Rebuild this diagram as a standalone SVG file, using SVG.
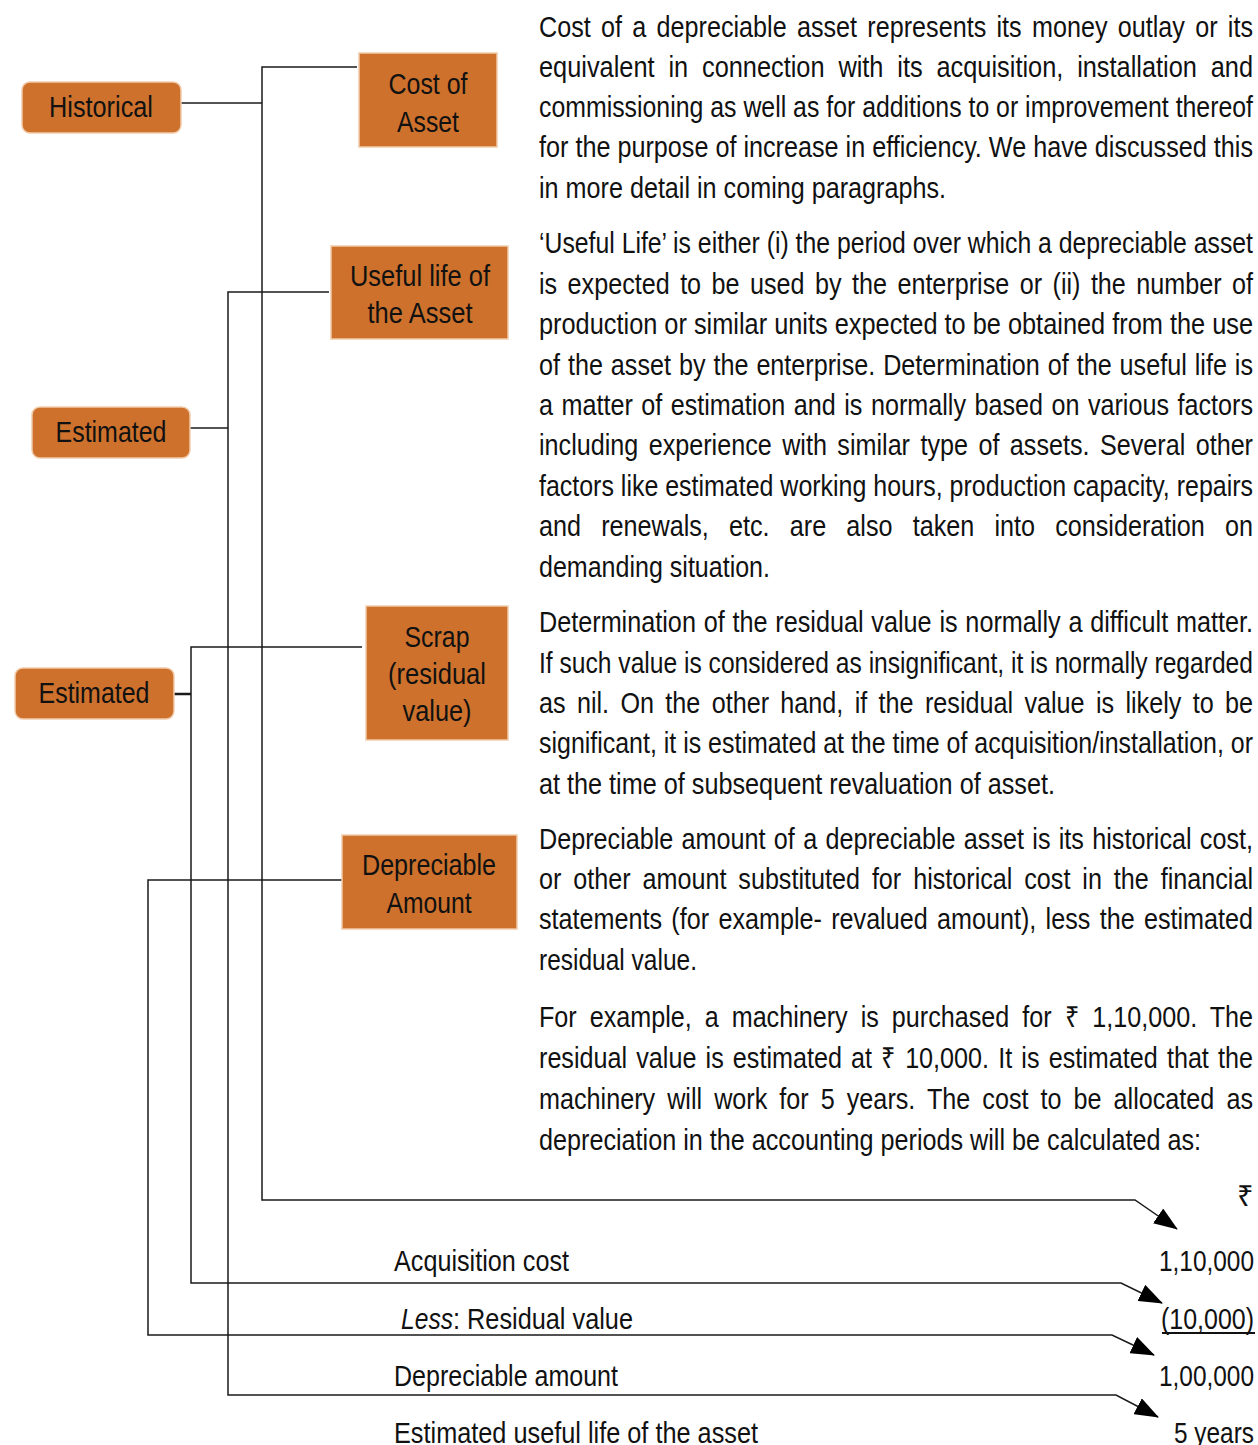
<svg xmlns="http://www.w3.org/2000/svg" width="1258" height="1445" viewBox="0 0 1258 1445">
<style>
.box{fill:#cd712d;stroke:#f1cbaa;stroke-width:1.5}
.lbl{font-family:"Liberation Sans",Arial,sans-serif;font-size:29px;fill:#111;text-anchor:middle}
.body{font-family:"Liberation Sans",Arial,sans-serif;font-size:29px;fill:#111}
.num{font-family:"Liberation Sans",Arial,sans-serif;font-size:29px;fill:#111;text-anchor:end}
.ln{fill:none;stroke:#1a1a1a;stroke-width:1.5}
</style>
<defs>
<marker id="ah" viewBox="0 0 24 18" refX="23" refY="9" markerWidth="24" markerHeight="18" markerUnits="userSpaceOnUse" orient="auto">
<path d="M0,0 L24,9 L0,18 z" fill="#000"/>
</marker>
</defs>

<g id="connectors">
<path class="ln" d="M181,103 H262"/>
<path class="ln" d="M357,67 H262 V1200 H1135 L1177,1229" marker-end="url(#ah)"/>
<path class="ln" d="M190,428 H228"/>
<path class="ln" d="M329,292 H228 V1395 H1116 L1158,1417" marker-end="url(#ah)"/>
<path class="ln" d="M174,694 H191" style="stroke-width:2.5"/>
<path class="ln" d="M362,647 H191 V1283 H1121 L1162,1303" marker-end="url(#ah)"/>
<path class="ln" d="M342,880 H148 V1335 H1112 L1154,1355" marker-end="url(#ah)"/>
</g>

<g id="node-historical">
<rect class="box" x="22" y="82" width="159" height="51" rx="8"/>
<text class="lbl" x="101" y="117" textLength="104" lengthAdjust="spacingAndGlyphs">Historical</text>
</g>
<g id="node-estimated-1">
<rect class="box" x="32" y="407" width="158" height="51" rx="8"/>
<text class="lbl" x="111" y="442" textLength="111" lengthAdjust="spacingAndGlyphs">Estimated</text>
</g>
<g id="node-estimated-2">
<rect class="box" x="15" y="668" width="159" height="51" rx="8"/>
<text class="lbl" x="94" y="703" textLength="111" lengthAdjust="spacingAndGlyphs">Estimated</text>
</g>
<g id="node-cost">
<rect class="box" x="359" y="53" width="138" height="94"/>
<text class="lbl" x="428" y="94" textLength="79" lengthAdjust="spacingAndGlyphs">Cost of</text>
<text class="lbl" x="428" y="132" textLength="62" lengthAdjust="spacingAndGlyphs">Asset</text>
</g>
<g id="node-useful-life">
<rect class="box" x="331" y="246" width="177" height="93"/>
<text class="lbl" x="420" y="286" textLength="140" lengthAdjust="spacingAndGlyphs">Useful life of</text>
<text class="lbl" x="420" y="323" textLength="105" lengthAdjust="spacingAndGlyphs">the Asset</text>
</g>
<g id="node-scrap">
<rect class="box" x="366" y="606" width="142" height="134"/>
<text class="lbl" x="437" y="647" textLength="65" lengthAdjust="spacingAndGlyphs">Scrap</text>
<text class="lbl" x="437" y="684" textLength="98" lengthAdjust="spacingAndGlyphs">(residual</text>
<text class="lbl" x="437" y="721" textLength="69" lengthAdjust="spacingAndGlyphs">value)</text>
</g>
<g id="node-depreciable">
<rect class="box" x="342" y="835" width="175" height="94"/>
<text class="lbl" x="429" y="875" textLength="134" lengthAdjust="spacingAndGlyphs">Depreciable</text>
<text class="lbl" x="429" y="913" textLength="85" lengthAdjust="spacingAndGlyphs">Amount</text>
</g>

<g id="text-cost">
<text class="body" x="539" y="37" textLength="714" lengthAdjust="spacingAndGlyphs" word-spacing="3.8">Cost of a depreciable asset represents its money outlay or its</text>
<text class="body" x="539" y="77" textLength="714" lengthAdjust="spacingAndGlyphs" word-spacing="7.8">equivalent in connection with its acquisition, installation and</text>
<text class="body" x="539" y="117" textLength="714" lengthAdjust="spacingAndGlyphs">commissioning as well as for additions to or improvement thereof</text>
<text class="body" x="539" y="157" textLength="714" lengthAdjust="spacingAndGlyphs">for the purpose of increase in efficiency. We have discussed this</text>
<text class="body" x="539" y="198" textLength="407" lengthAdjust="spacingAndGlyphs">in more detail in coming paragraphs.</text>
</g>
<g id="text-useful-life">
<text class="body" x="539" y="253" textLength="714" lengthAdjust="spacingAndGlyphs">‘Useful Life’ is either (i) the period over which a depreciable asset</text>
<text class="body" x="539" y="294" textLength="714" lengthAdjust="spacingAndGlyphs" word-spacing="4">is expected to be used by the enterprise or (ii) the number of</text>
<text class="body" x="539" y="334" textLength="714" lengthAdjust="spacingAndGlyphs">production or similar units expected to be obtained from the use</text>
<text class="body" x="539" y="375" textLength="714" lengthAdjust="spacingAndGlyphs" word-spacing="1.1">of the asset by the enterprise. Determination of the useful life is</text>
<text class="body" x="539" y="415" textLength="714" lengthAdjust="spacingAndGlyphs" word-spacing="1.7">a matter of estimation and is normally based on various factors</text>
<text class="body" x="539" y="455" textLength="714" lengthAdjust="spacingAndGlyphs" word-spacing="4">including experience with similar type of assets. Several other</text>
<text class="body" x="539" y="496" textLength="714" lengthAdjust="spacingAndGlyphs">factors like estimated working hours, production capacity, repairs</text>
<text class="body" x="539" y="536" textLength="714" lengthAdjust="spacingAndGlyphs" word-spacing="15.2">and renewals, etc. are also taken into consideration on</text>
<text class="body" x="539" y="577" textLength="231" lengthAdjust="spacingAndGlyphs">demanding situation.</text>
</g>
<g id="text-scrap">
<text class="body" x="539" y="632" textLength="714" lengthAdjust="spacingAndGlyphs" word-spacing="0.9">Determination of the residual value is normally a difficult matter.</text>
<text class="body" x="539" y="673" textLength="714" lengthAdjust="spacingAndGlyphs">If such value is considered as insignificant, it is normally regarded</text>
<text class="body" x="539" y="713" textLength="714" lengthAdjust="spacingAndGlyphs" word-spacing="5">as nil. On the other hand, if the residual value is likely to be</text>
<text class="body" x="539" y="753" textLength="714" lengthAdjust="spacingAndGlyphs">significant, it is estimated at the time of acquisition/installation, or</text>
<text class="body" x="539" y="794" textLength="516" lengthAdjust="spacingAndGlyphs">at the time of subsequent revaluation of asset.</text>
</g>
<g id="text-depreciable">
<text class="body" x="539" y="849" textLength="714" lengthAdjust="spacingAndGlyphs" word-spacing="1.5">Depreciable amount of a depreciable asset is its historical cost,</text>
<text class="body" x="539" y="889" textLength="714" lengthAdjust="spacingAndGlyphs" word-spacing="5.7">or other amount substituted for historical cost in the financial</text>
<text class="body" x="539" y="929" textLength="714" lengthAdjust="spacingAndGlyphs" word-spacing="2.7">statements (for example- revalued amount), less the estimated</text>
<text class="body" x="539" y="970" textLength="158" lengthAdjust="spacingAndGlyphs">residual value.</text>
</g>
<g id="text-example">
<text class="body" x="539" y="1027" textLength="714" lengthAdjust="spacingAndGlyphs" word-spacing="6.9">For example, a machinery is purchased for ₹ 1,10,000. The</text>
<text class="body" x="539" y="1068" textLength="714" lengthAdjust="spacingAndGlyphs" word-spacing="2.5">residual value is estimated at ₹ 10,000. It is estimated that the</text>
<text class="body" x="539" y="1109" textLength="714" lengthAdjust="spacingAndGlyphs" word-spacing="5.8">machinery will work for 5 years. The cost to be allocated as</text>
<text class="body" x="539" y="1150" textLength="662" lengthAdjust="spacingAndGlyphs">depreciation in the accounting periods will be calculated as:</text>
</g>
<g id="table">
<text class="num" x="1254" y="1206" font-size="25">₹</text>
<text class="body" x="394" y="1271" textLength="175" lengthAdjust="spacingAndGlyphs">Acquisition cost</text>
<text class="num" x="1254" y="1271" textLength="95" lengthAdjust="spacingAndGlyphs">1,10,000</text>
<text class="body" x="401" y="1329"><tspan font-style="italic" textLength="52" lengthAdjust="spacingAndGlyphs">Less</tspan><tspan textLength="180" lengthAdjust="spacingAndGlyphs">: Residual value</tspan></text>
<text class="num" x="1254" y="1329" textLength="93" lengthAdjust="spacingAndGlyphs">(10,000)</text>
<path d="M1162,1333 H1255" stroke="#111" stroke-width="2"/>
<text class="body" x="394" y="1386" textLength="224" lengthAdjust="spacingAndGlyphs">Depreciable amount</text>
<text class="num" x="1254" y="1386" textLength="95" lengthAdjust="spacingAndGlyphs">1,00,000</text>
<text class="body" x="394" y="1443" textLength="364" lengthAdjust="spacingAndGlyphs">Estimated useful life of the asset</text>
<text class="num" x="1254" y="1443" textLength="80" lengthAdjust="spacingAndGlyphs">5 years</text>
</g>
</svg>
